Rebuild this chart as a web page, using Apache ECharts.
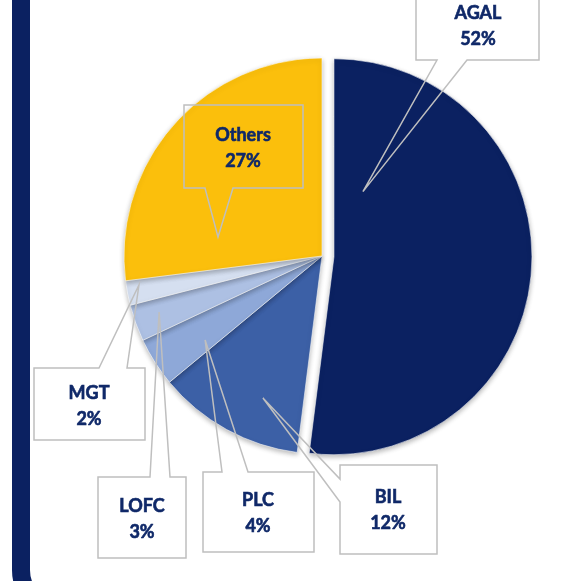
<!DOCTYPE html>
<html>
<head>
<meta charset="utf-8">
<script src="https://cdn.jsdelivr.net/npm/echarts@6/dist/echarts.min.js"></script>
<style>
  html, body { margin: 0; padding: 0; background: #ffffff; }
  #chart { width: 572px; height: 581px; }
</style>
</head>
<body>
<div id="chart"></div>
<script>
// ---- data ----
const categories = ['AGAL', 'BIL', 'PLC', 'LOFC', 'MGT', 'Others'];
const shares = [52, 12, 4, 3, 2, 27];
const explodedCategory = 'AGAL';

// ---- styles ----
const sliceColors = ['#0b2161', '#3c60a6', '#8ea8d8', '#adc0e3', '#d5dff0', '#fbbf0c'];
const textColor = '#0f2868';
const calloutStroke = '#bfbfbf';
const pieCenter = [322, 256];
const pieRadius = 198;
const explodeOffset = 12;

// callout geometry (label centre, box, wedge base, tip position within slice)
const callouts = {
  AGAL:   { label: [478, 26],  box: [416, -5, 539, 60],   side: 'bottom', base: [437, 467], af: 0.128, rf: 0.36 },
  BIL:    { label: [388, 510], box: [340, 465, 437, 554], side: 'left',   base: [479, 502], af: 0.356, rf: 0.777 },
  PLC:    { label: [258, 513], box: [203, 472, 314, 552], side: 'top',    base: [222, 248], af: 0.27,  rf: 0.727 },
  LOFC:   { label: [142, 519], box: [98, 477, 186, 558],  side: 'top',    base: [150, 170], af: 0.574, rf: 0.87 },
  MGT:    { label: [89, 406],  box: [34, 368, 145, 440],  side: 'top',    base: [99, 127],  af: 0.75,  rf: 0.936 },
  Others: { label: [243, 148], box: [184, 105, 303, 188], side: 'bottom', base: [205, 233], af: 0.181, rf: 0.534 }
};

const chart = echarts.init(document.getElementById('chart'), null, { renderer: 'canvas' });

const sliceData = categories.map((name, i) => ({
  name: name,
  value: shares[i],
  selected: name === explodedCategory,
  itemStyle: { color: sliceColors[i] }
}));
const labelData = categories.map((name, i) => ({ name: name, value: shares[i] }));

chart.setOption({
  animation: false,
  backgroundColor: '#ffffff',
  series: [{
    type: 'pie',
    center: pieCenter,
    radius: pieRadius,
    startAngle: 90,
    clockwise: true,
    selectedMode: 'single',
    selectedOffset: explodeOffset,
    silent: true,
    emphasis: { disabled: true },
    itemStyle: {
      borderColor: 'rgba(255,255,255,0.55)',
      borderWidth: 1,
      shadowColor: 'rgba(0,0,0,0.28)',
      shadowBlur: 5,
      shadowOffsetY: 2
    },
    label: { show: false },
    labelLine: { show: false },
    data: sliceData
  }, {
    // label carrier: same values, invisible slices
    type: 'pie',
    center: pieCenter,
    radius: pieRadius,
    startAngle: 90,
    clockwise: true,
    silent: true,
    avoidLabelOverlap: false,
    emphasis: { disabled: true },
    z: 3,
    itemStyle: { color: 'rgba(0,0,0,0)', borderWidth: 0 },
    label: {
      show: true,
      position: 'outside',
      formatter: p => p.name + '\n' + p.value + '%',
      fontFamily: 'Lato',
      fontWeight: 'bold',
      fontSize: 18,
      lineHeight: 26,
      color: textColor,
      textBorderColor: textColor,
      textBorderWidth: 0.6,
      align: 'center'
    },
    labelLine: { show: false },
    labelLayout: function (params) {
      const c = callouts[categories[params.dataIndex]];
      return { x: c.label[0], y: c.label[1], align: 'center', verticalAlign: 'middle' };
    },
    data: labelData
  }]
});

// ---- callout outlines, anchored on the slice layout computed by ECharts ----
function calloutPolygon(c, tip) {
  const [x1, y1, x2, y2] = c.box;
  const [a, b] = c.base;
  if (c.side === 'bottom') return [[x1, y1], [x2, y1], [x2, y2], [b, y2], tip, [a, y2], [x1, y2]];
  if (c.side === 'top') return [[x1, y1], [a, y1], tip, [b, y1], [x2, y1], [x2, y2], [x1, y2]];
  return [[x1, y1], [x2, y1], [x2, y2], [x1, y2], [x1, b], tip, [x1, a]];
}

const seriesData = chart.getModel().getSeriesByIndex(0).getData();
const graphics = [{
  type: 'rect',
  z: 50,
  shape: { x: 21, y: -60, width: 1000, height: 670, r: 40 },
  style: { fill: 'none', stroke: '#0b2161', lineWidth: 18 }
}];
categories.forEach((name, i) => {
  const lay = seriesData.getItemLayout(i);
  let cx = lay.cx, cy = lay.cy;
  const s = lay.startAngle, e = lay.endAngle;
  if (name === explodedCategory) {
    const mid = (s + e) / 2;
    cx += Math.cos(mid) * explodeOffset;
    cy += Math.sin(mid) * explodeOffset;
  }
  const c = callouts[name];
  const ang = s + c.af * (e - s);
  const tip = [cx + Math.cos(ang) * lay.r * c.rf, cy + Math.sin(ang) * lay.r * c.rf];
  graphics.push({
    type: 'polygon',
    z: 100,
    silent: true,
    shape: { points: calloutPolygon(c, tip) },
    style: { fill: 'none', stroke: calloutStroke, lineWidth: 1.5 }
  });
});
chart.setOption({ graphic: graphics });
</script>
</body>
</html>
